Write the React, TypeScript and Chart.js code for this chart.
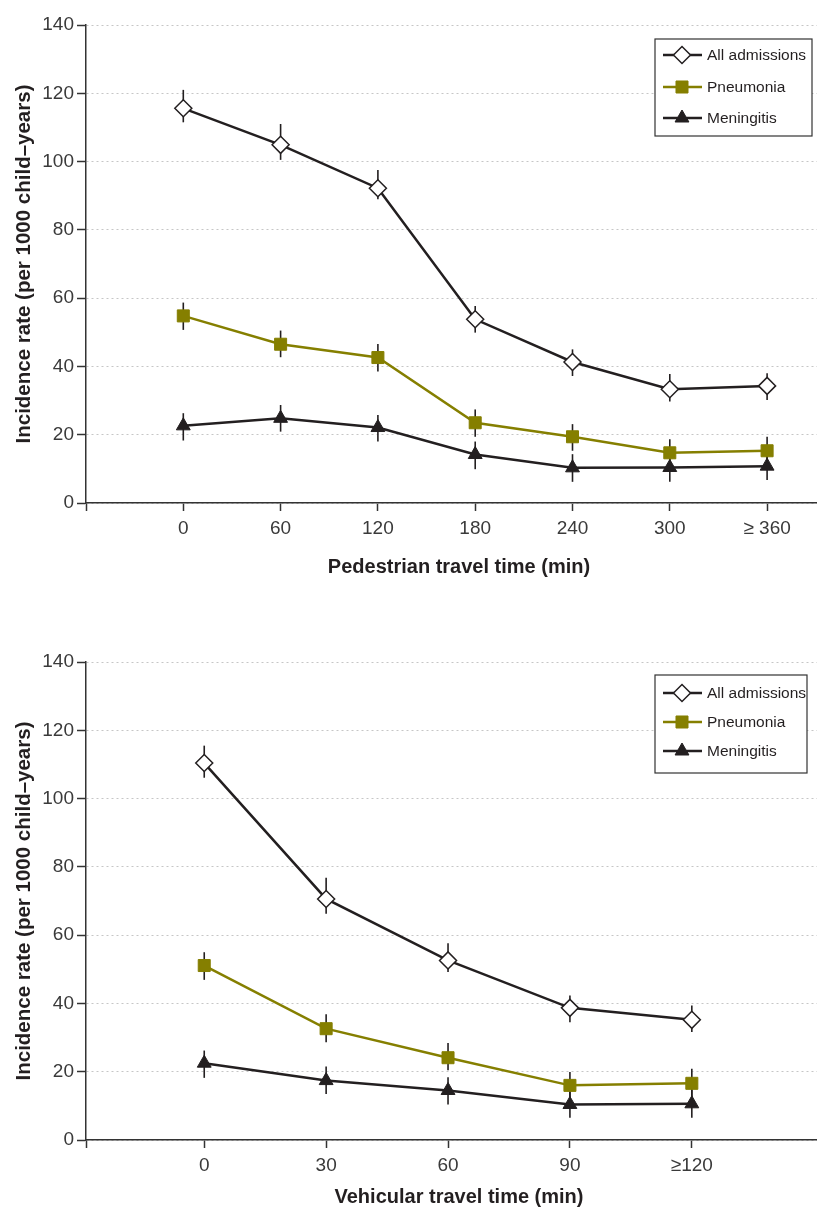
import React, { useEffect, useRef } from 'react';
import { Chart, registerables } from 'chart.js';
import { drawPoint } from 'chart.js/helpers';

Chart.register(...registerables);

const FONT = "'Liberation Sans', Arial, sans-serif";
const INK = '#231f20';
const OLIVE = '#857f00';

const seriesNames = ['All admissions', 'Pneumonia', 'Meningitis'];
const yTicks = [0, 20, 40, 60, 80, 100, 120, 140];
const yTitle = 'Incidence rate (per 1000 child\u2013years)';

// Pedestrian travel time
const pedCategories = ['0', '60', '120', '180', '240', '300', '\u2265 360'];
const pedAll = [115.6, 104.9, 92.2, 53.8, 41.3, 33.3, 34.3];
const pedAllLow = [111.5, 100.5, 89.0, 49.9, 37.2, 29.7, 30.2];
const pedAllHigh = [121.0, 111.0, 97.5, 57.7, 45.0, 37.8, 38.0];
const pedPneu = [54.8, 46.5, 42.6, 23.5, 19.4, 14.7, 15.3];
const pedPneuLow = [50.7, 42.7, 38.5, 19.4, 15.3, 10.6, 11.4];
const pedPneuHigh = [58.7, 50.5, 46.6, 27.4, 23.1, 18.7, 19.4];
const pedMen = [22.6, 24.8, 22.1, 14.2, 10.3, 10.4, 10.8];
const pedMenLow = [18.3, 20.9, 18.0, 9.9, 6.2, 6.2, 6.7];
const pedMenHigh = [26.3, 28.7, 25.8, 18.0, 14.3, 14.4, 14.7];

// Vehicular travel time
const vehCategories = ['0', '30', '60', '90', '\u2265120'];
const vehAll = [110.4, 70.6, 52.6, 38.7, 35.2];
const vehAllLow = [106.1, 66.3, 49.2, 34.5, 31.6];
const vehAllHigh = [115.5, 76.8, 57.6, 42.3, 39.4];
const vehPneu = [51.1, 32.6, 24.1, 16.0, 16.6];
const vehPneuLow = [46.9, 28.6, 20.4, 11.6, 12.5];
const vehPneuHigh = [55.0, 36.8, 28.4, 19.9, 20.9];
const vehMen = [22.5, 17.4, 14.5, 10.4, 10.6];
const vehMenLow = [18.2, 13.5, 10.4, 6.5, 6.5];
const vehMenHigh = [26.2, 21.5, 18.4, 14.5, 14.7];

const PLOT_H = 478;
const CANVAS_W = 842;

const errorBarPlugin = {
  id: 'errorBars',
  beforeDatasetsDraw(chart: any) {
    const { ctx } = chart;
    const y = chart.scales.y;
    chart.data.datasets.forEach((ds: any, i: number) => {
      const meta = chart.getDatasetMeta(i);
      ctx.save();
      ctx.strokeStyle = INK;
      ctx.lineWidth = 1.6;
      meta.data.forEach((pt: any, j: number) => {
        ctx.beginPath();
        ctx.moveTo(pt.x, y.getPixelForValue(ds.errLow[j]));
        ctx.lineTo(pt.x, y.getPixelForValue(ds.errHigh[j]));
        ctx.stroke();
      });
      ctx.restore();
    });
  },
};

function makeLegendPlugin(box: { left: number; top: number; width: number; height: number; rows: number[] }) {
  return {
    id: 'legendBox',
    afterDraw(chart: any) {
      const { ctx } = chart;
      const { left, top, width, height, rows } = box;
      ctx.save();
      ctx.fillStyle = '#ffffff';
      ctx.fillRect(left, top, width, height);
      ctx.strokeStyle = '#333333';
      ctx.lineWidth = 1.2;
      ctx.strokeRect(left, top, width, height);
      chart.data.datasets.forEach((ds: any, i: number) => {
        const cy = top + rows[i];
        ctx.strokeStyle = ds.borderColor;
        ctx.lineWidth = 2.5;
        ctx.beginPath();
        ctx.moveTo(left + 8, cy);
        ctx.lineTo(left + 47, cy);
        ctx.stroke();
        ctx.fillStyle = ds.pointBackgroundColor;
        ctx.strokeStyle = ds.pointBorderColor;
        ctx.lineWidth = ds.pointBorderWidth;
        drawPoint(ctx, { pointStyle: ds.pointStyle, radius: ds.pointRadius, rotation: 0, borderWidth: ds.pointBorderWidth } as any, left + 27, cy);
        ctx.fillStyle = INK;
        ctx.font = `15.5px ${FONT}`;
        ctx.textBaseline = 'middle';
        ctx.textAlign = 'left';
        ctx.fillText(ds.label, left + 52, cy + 1);
      });
      ctx.restore();
    },
  };
}

type Props = {
  categories: string[];
  all: number[]; allLow: number[]; allHigh: number[];
  pneu: number[]; pneuLow: number[]; pneuHigh: number[];
  men: number[]; menLow: number[]; menHigh: number[];
  xTitle: string;
  xMin: number; xMax: number;
  height: number; padTop: number;
  legend: { left: number; top: number; width: number; height: number; rows: number[] };
};

function TravelChart(p: Props) {
  const ref = useRef<HTMLCanvasElement>(null);
  useEffect(() => {
    if (!ref.current) return;
    const xAxisHeight = p.height - p.padTop - PLOT_H;
    const pts = (arr: number[]) => arr.map((v, i) => ({ x: i, y: v }));
    const tickFont = { family: FONT, size: 19 };
    const chart = new Chart(ref.current, {
      type: 'line',
      data: {
        datasets: [
          {
            label: seriesNames[0], data: pts(p.all), errLow: p.allLow, errHigh: p.allHigh,
            borderColor: INK, borderWidth: 2.5, pointStyle: 'rectRot', pointRadius: 8.5,
            pointBackgroundColor: '#ffffff', pointBorderColor: INK, pointBorderWidth: 1.5, tension: 0,
          },
          {
            label: seriesNames[1], data: pts(p.pneu), errLow: p.pneuLow, errHigh: p.pneuHigh,
            borderColor: OLIVE, borderWidth: 2.5, pointStyle: 'rect', pointRadius: 8.5,
            pointBackgroundColor: OLIVE, pointBorderColor: OLIVE, pointBorderWidth: 1, tension: 0,
          },
          {
            label: seriesNames[2], data: pts(p.men), errLow: p.menLow, errHigh: p.menHigh,
            borderColor: INK, borderWidth: 2.5, pointStyle: 'triangle', pointRadius: 8,
            pointBackgroundColor: INK, pointBorderColor: INK, pointBorderWidth: 1, tension: 0,
          },
        ] as any,
      },
      options: {
        animation: false,
        responsive: true,
        maintainAspectRatio: false,
        layout: { padding: { top: p.padTop, left: 0, right: 0, bottom: 0 } },
        plugins: { legend: { display: false }, tooltip: { enabled: false } },
        events: [],
        scales: {
          x: {
            type: 'linear',
            min: p.xMin,
            max: p.xMax,
            afterBuildTicks: (s: any) => {
              s.ticks = [p.xMin, ...p.categories.map((_, i) => i)].map((v) => ({ value: v }));
            },
            afterFit: (s: any) => { s.height = xAxisHeight; },
            ticks: {
              autoSkip: false, maxRotation: 0, minRotation: 0, padding: 6, color: '#3a3a3a', font: tickFont,
              callback: (v: any) => (Number.isInteger(v) && p.categories[v] !== undefined ? p.categories[v] : ''),
            },
            grid: { drawOnChartArea: false, drawTicks: true, tickLength: 8, tickColor: '#333333', tickWidth: 1.5 },
            border: { color: '#333333', width: 1.5 },
            title: {
              display: true, text: p.xTitle, color: INK,
              font: { family: FONT, size: 20, weight: 'bold' }, padding: { top: 0, bottom: 7 },
            },
          },
          y: {
            type: 'linear',
            min: 0,
            max: 140,
            afterBuildTicks: (s: any) => { s.ticks = yTicks.map((v) => ({ value: v })); },
            afterFit: (s: any) => { s.width = 86; },
            ticks: { padding: 3, color: '#3a3a3a', font: tickFont, callback: (v: any) => String(v) },
            grid: {
              color: '#c6c6c6', lineWidth: 1, tickLength: 9, tickColor: '#333333', tickWidth: 1.5,
              borderDash: [2, 3],
            } as any,
            border: { color: '#333333', width: 1.5, dash: [2, 3] },
            title: {
              display: true, text: yTitle, color: INK,
              font: { family: FONT, size: 20.5, weight: 'bold' }, padding: { top: 12, bottom: 0 },
            },
          },
        },
      } as any,
      plugins: [errorBarPlugin, makeLegendPlugin(p.legend)],
    });
    return () => chart.destroy();
  }, []);
  return (
    <div style={{ position: 'relative', width: CANVAS_W, height: p.height }}>
      <canvas ref={ref} />
    </div>
  );
}

export default function App() {
  useEffect(() => {
    document.body.style.margin = '0';
    document.body.style.overflow = 'hidden';
    document.body.style.background = '#ffffff';
  }, []);
  return (
    <div style={{ width: 817, height: 1215, overflow: 'hidden', background: '#fff' }}>
      <TravelChart
        categories={pedCategories}
        all={pedAll} allLow={pedAllLow} allHigh={pedAllHigh}
        pneu={pedPneu} pneuLow={pedPneuLow} pneuHigh={pedPneuHigh}
        men={pedMen} menLow={pedMenLow} menHigh={pedMenHigh}
        xTitle="Pedestrian travel time (min)"
        xMin={-1} xMax={6.667}
        height={586} padTop={25}
        legend={{ left: 655, top: 39, width: 157, height: 97, rows: [16, 48, 79] }}
      />
      <TravelChart
        categories={vehCategories}
        all={vehAll} allLow={vehAllLow} allHigh={vehAllHigh}
        pneu={vehPneu} pneuLow={vehPneuLow} pneuHigh={vehPneuHigh}
        men={vehMen} menLow={vehMenLow} menHigh={vehMenHigh}
        xTitle="Vehicular travel time (min)"
        xMin={-0.97} xMax={5.15}
        height={630} padTop={76}
        legend={{ left: 655, top: 89, width: 152, height: 98, rows: [18, 47, 76] }}
      />
    </div>
  );
}
